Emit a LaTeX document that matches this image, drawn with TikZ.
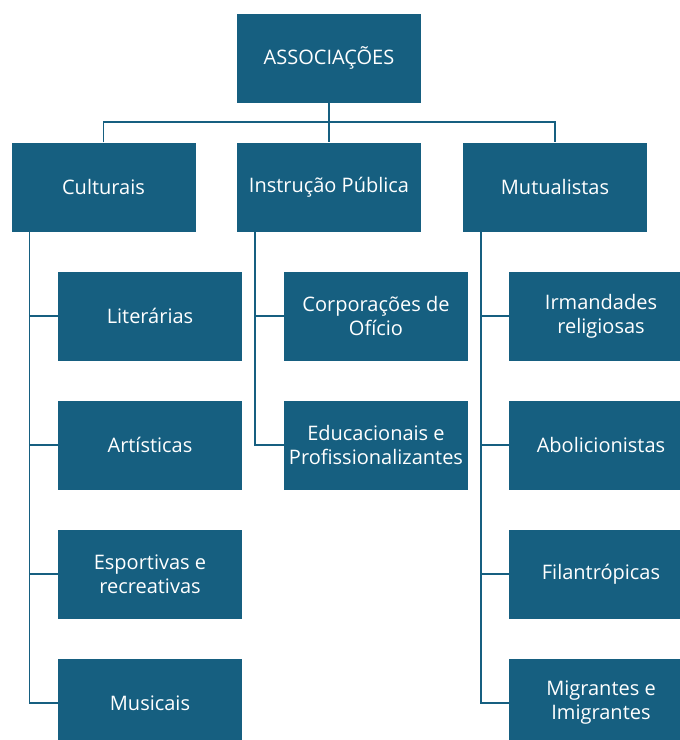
\documentclass[tikz,border=0pt]{standalone}
\usepackage{fontspec}
\setmainfont{Open Sans}
\definecolor{assocblue}{HTML}{165F80}
\begin{document}
\begin{tikzpicture}[x=1pt, y=-1pt,
  box/.style={fill=assocblue, text=white, minimum width=184pt, minimum height=89pt,
    inner sep=2pt, align=center, font=\fontsize{20}{24}\selectfont},
  link/.style={draw=assocblue, line width=1.6pt}]
\useasboundingbox (0,0) rectangle (680,740);
\node[box] (top) at (329,58) {ASSOCIAÇÕES};
\node[box] (cult) at (103.5,187) {Culturais};
\node[box] (instr) at (329,187) {Instrução Pública};
\node[box] (mutu) at (555,187) {Mutualistas};
\node[box] (lit) at (150,316) {Literárias};
\node[box] (art) at (150,445) {Artísticas};
\node[box] (esp) at (150,574) {Esportivas e\\recreativas};
\node[box] (mus) at (150,703) {Musicais};
\node[box] (corp) at (376,316) {Corporações de\\Ofício};
\node[box] (educ) at (376,445) {Educacionais e\\Profissionalizantes};
\node[box] (irm) at (601,316) {Irmandades\\religiosas};
\node[box] (abol) at (601,445) {Abolicionistas};
\node[box] (fil) at (601,574) {Filantrópicas};
\node[box] (migr) at (601,703) {Migrantes e\\Imigrantes};
% ligações do topo
\draw[link] (top.south) -- ++(0,19) coordinate (bus);
\draw[link] (cult.north) |- (bus) -| (mutu.north);
\draw[link] (bus) -- (instr.north);
% ligações dos grupos
\coordinate (cultspine) at ([xshift=18pt]cult.south west);
\coordinate (instrspine) at ([xshift=18pt]instr.south west);
\coordinate (mutuspine) at ([xshift=18pt]mutu.south west);
\draw[link] (cultspine) |- (mus.west);
\draw[link] (cultspine) |- (lit.west);
\draw[link] (cultspine) |- (art.west);
\draw[link] (cultspine) |- (esp.west);
\draw[link] (instrspine) |- (educ.west);
\draw[link] (instrspine) |- (corp.west);
\draw[link] (mutuspine) |- (migr.west);
\draw[link] (mutuspine) |- (irm.west);
\draw[link] (mutuspine) |- (abol.west);
\draw[link] (mutuspine) |- (fil.west);
\end{tikzpicture}
\end{document}
